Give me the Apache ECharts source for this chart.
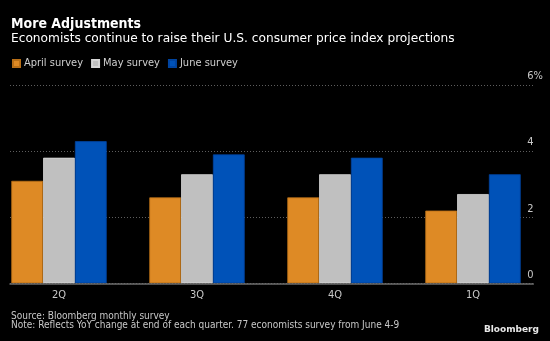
<!DOCTYPE html>
<html>
<head>
<meta charset="utf-8">
<script src="https://cdn.jsdelivr.net/npm/echarts@6/dist/echarts.min.js"></script>
<style>
html,body{margin:0;padding:0;background:#000;}
#c{width:550px;height:341px;}
</style>
</head>
<body>
<div id="c"></div>
<script>
const categories = ['2Q', '3Q', '4Q', '1Q'];
const seriesNames = ['April survey', 'May survey', 'June survey'];
const aprilSurvey = [3.1, 2.6, 2.6, 2.2];
const maySurvey = [3.8, 3.3, 3.3, 2.7];
const juneSurvey = [4.3, 3.9, 3.8, 3.3];
const yTicks = [0, 2, 4, 6];

const FONT = '"DejaVu Sans Condensed", "Liberation Sans Narrow", "DejaVu Sans", sans-serif';
const FONT2 = '"DejaVu Sans", sans-serif';
const colors = ['#de8a25', '#c0c0c0', '#0052b8'];
const borders = ['#b86f17', '#d6d6d6', '#0044a0'];
const values = [aprilSurvey, maySurvey, juneSurvey];

const chart = echarts.init(document.getElementById('c'));
const TOP = 85, BOTTOM = 341 - 283.3;

const option = {
  backgroundColor: '#000',
  animation: false,
  legend: {
    data: seriesNames,
    left: 7, top: 53,
    icon: 'rect', itemWidth: 7, itemHeight: 7, itemGap: 8,
    textStyle: {color: '#cfcfcf', fontFamily: FONT, fontSize: 11, padding: [0, 0, 0, -1]}
  },
  grid: [
    {left: -10, right: 8, top: TOP, bottom: BOTTOM, outerBoundsMode: 'none', containLabel: false},
    {left: 10, right: 16.7, top: TOP, bottom: BOTTOM, outerBoundsMode: 'none', containLabel: false}
  ],
  xAxis: [
    {type: 'category', gridIndex: 0, data: categories,
     axisLine: {show: false}, axisTick: {show: false},
     axisLabel: {color: '#c8c8c8', fontFamily: FONT, fontSize: 11, margin: 6}},
    {type: 'value', gridIndex: 1, min: 0, max: 1,
     axisLine: {show: true, lineStyle: {color: '#6e6e6e', width: 1.5}},
     axisTick: {show: false}, axisLabel: {show: false}, splitLine: {show: false}, z: 5}
  ],
  yAxis: [
    {type: 'value', gridIndex: 0, min: 0, max: 6, show: false, splitLine: {show: false}},
    {type: 'value', gridIndex: 1, min: 0, max: 6, interval: 2, position: 'right',
     axisLine: {show: false}, axisTick: {show: false},
     axisLabel: {color: '#c8c8c8', fontFamily: FONT, fontSize: 11, margin: -6,
       align: 'left', verticalAlign: 'bottom', padding: [0, 0, 3, 0],
       formatter: function (v) { return yTicks.indexOf(v) >= 0 ? (v === 6 ? v + '%' : String(v)) : ''; }},
     splitLine: {show: true, lineStyle: {color: '#5e5e5e', type: [1, 2], width: 1}}}
  ],
  series: seriesNames.map((name, i) => ({
    name: name, type: 'bar', xAxisIndex: 0, yAxisIndex: 0,
    data: values[i], barWidth: 31.8, barGap: '0%',
    itemStyle: {color: colors[i], borderColor: borders[i], borderWidth: 0.8},
    z: 3
  })),
  graphic: [
    {type: 'text', left: 11, top: 17, style: {text: 'More Adjustments', fill: '#fff', font: 'bold 14px ' + FONT}},
    {type: 'text', left: 11, top: 33, style: {text: 'Economists continue to raise their U.S. consumer price index projections', fill: '#fff', font: '12.2px ' + FONT2}},
    {type: 'text', left: 11, top: 311, style: {text: 'Source: Bloomberg monthly survey', fill: '#c8c8c8', font: '10px ' + FONT}},
    {type: 'text', left: 11, top: 320.5, style: {text: 'Note: Reflects YoY change at end of each quarter. 77 economists survey from June 4-9', fill: '#c8c8c8', font: '10px ' + FONT}},
    {type: 'text', right: 11, top: 325.5, style: {text: 'Bloomberg', fill: '#e8e8e8', font: 'bold 9px ' + FONT2}}
  ]
};
chart.setOption(option);
</script>
</body>
</html>
